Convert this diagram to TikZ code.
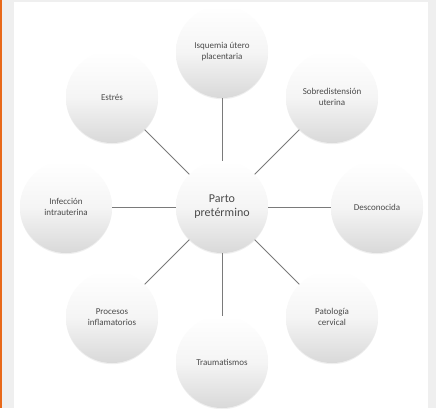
\documentclass[tikz,border=0pt]{standalone}
\usepackage{fontspec}
\setmainfont{Carlito}
\usetikzlibrary{shadows}

\definecolor{barra}{HTML}{E8691A}
\definecolor{fondo}{HTML}{EFEFEF}
\definecolor{linea}{HTML}{7A7A7A}
\definecolor{texto}{HTML}{4A4A4A}

\begin{document}
\begin{tikzpicture}[x=1pt, y=-1pt,
    bola/.style={circle, minimum size=92pt, inner sep=0pt, align=center,
        top color=white, bottom color=gray!30, middle color=gray!8,
        text=texto, font=\fontsize{9}{11}\selectfont,
        drop shadow={opacity=0.12, shadow xshift=0pt, shadow yshift=-1.2pt}},
    centro/.style={bola, font=\fontsize{12}{14}\selectfont},
    radio/.style={draw=linea, line width=0.9pt}]
    % =========================================================
    % MARCO
    % =========================================================
    \useasboundingbox (0,0) rectangle (436,408);
    \fill[fondo] (0,0) rectangle (436,408);
    \fill[white] (14,2) rectangle (428,408);
    \fill[barra] (0,0) rectangle (2,408);

    % =========================================================
    % NODOS
    % =========================================================
    % Centro
    \node[centro] (parto) at (222,207) {Parto\\pretérmino};

    % Causas alrededor
    \node[bola] (isquemia)    at (222,52)  {Isquemia útero\\placentaria};
    \node[bola] (sobredist)   at (332,97)  {Sobredistensión\\uterina};
    \node[bola] (desconocida) at (377,207) {Desconocida};
    \node[bola] (patologia)   at (332,317) {Patología\\cervical};
    \node[bola] (trauma)      at (222,362) {Traumatismos};
    \node[bola] (procesos)    at (112,317) {Procesos\\inflamatorios};
    \node[bola] (infeccion)   at (66,207)  {Infección\\intrauterina};
    \node[bola] (estres)      at (112,97)  {Estrés};

    % =========================================================
    % RADIOS
    % =========================================================
    \draw[radio] (parto) -- (isquemia);
    \draw[radio] (parto) -- (sobredist);
    \draw[radio] (parto) -- (desconocida);
    \draw[radio] (parto) -- (patologia);
    \draw[radio] (parto) -- (trauma);
    \draw[radio] (parto) -- (procesos);
    \draw[radio] (parto) -- (infeccion);
    \draw[radio] (parto) -- (estres);
\end{tikzpicture}
\end{document}
